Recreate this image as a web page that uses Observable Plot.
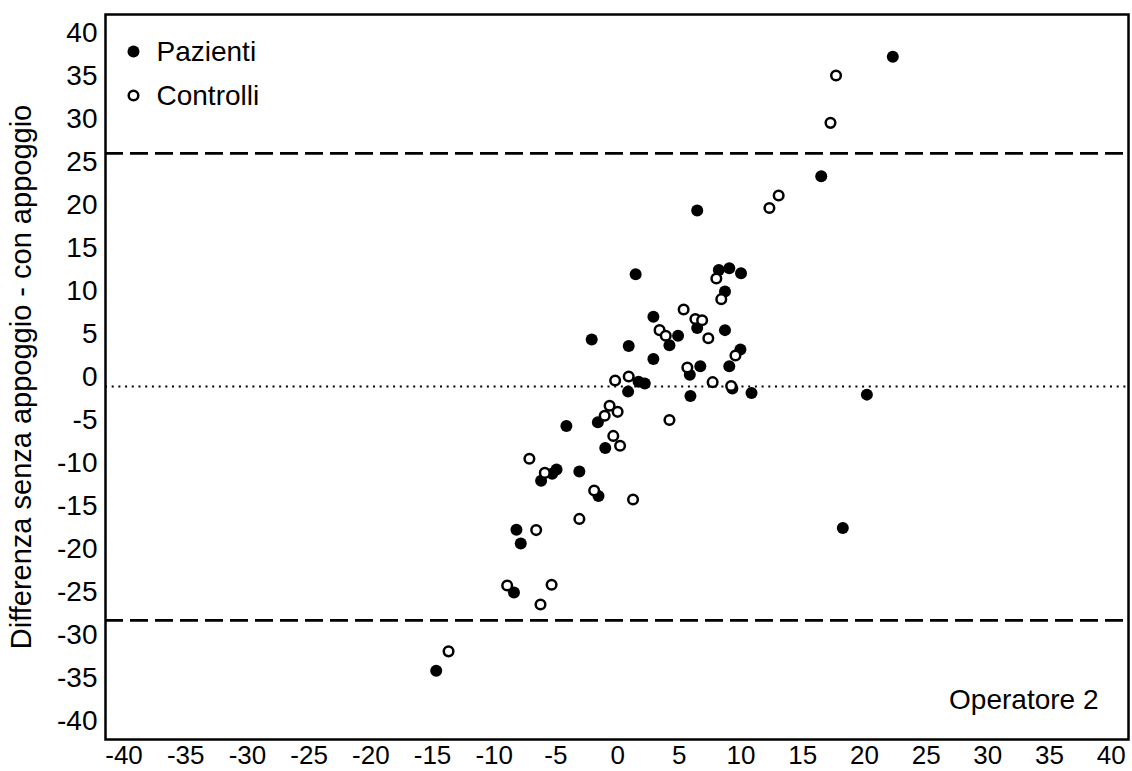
<!DOCTYPE html>
<html>
<head>
<meta charset="utf-8">
<script src="https://cdn.jsdelivr.net/npm/d3@7"></script>
<script src="https://cdn.jsdelivr.net/npm/@observablehq/plot@0.6"></script>
<style>
  html, body { margin: 0; padding: 0; background: #fff; }
  #chart { width: 1132px; height: 771px; }
</style>
</head>
<body>
<div id="chart"></div>
<script>
// Pazienti (filled)
const pazientiX = [22.3, 16.5, 6.45, 1.46, 8.2, 9.05, 10.0, 8.7, 2.9, 6.45, 8.7, 4.9, -2.1, 4.2, 0.9, 9.95, 2.9, 6.7, 9.05, 5.85, 1.7, 2.2, 9.3, 0.85, 5.9, 10.85, 20.2, -1.6, -4.15, -1.0, -4.95, -5.3, -6.2, -3.1, -1.55, -8.2, -7.85, -8.4, 18.25, -14.7];
const pazientiY = [37.3, 23.4, 19.4, 12.0, 12.5, 12.7, 12.1, 10.0, 7.05, 5.75, 5.5, 4.85, 4.4, 3.75, 3.65, 3.25, 2.15, 1.3, 1.3, 0.3, -0.5, -0.7, -1.3, -1.65, -2.15, -1.8, -2.0, -5.2, -5.65, -8.2, -10.7, -11.2, -12.0, -10.95, -13.8, -17.7, -19.3, -25.0, -17.5, -34.1];
// Controlli (open)
const controlliX = [17.7, 17.25, 13.05, 12.3, 8.0, 8.4, 5.35, 6.3, 6.85, 3.4, 3.9, 7.35, 9.55, 5.65, -0.2, 0.9, 7.7, 9.2, -0.65, 0.0, -1.05, 4.2, -0.35, 0.2, -7.15, -5.9, -1.9, 1.25, -3.1, -6.6, -8.95, -5.35, -6.25, -13.7];
const controlliY = [35.1, 29.6, 21.15, 19.7, 11.5, 9.1, 7.9, 6.8, 6.65, 5.5, 4.85, 4.55, 2.55, 1.15, -0.35, 0.1, -0.55, -1.0, -3.3, -4.0, -4.45, -4.95, -6.8, -7.95, -9.45, -11.1, -13.15, -14.2, -16.45, -17.75, -24.2, -24.1, -26.4, -31.85];

const meanDiff = -1.05;
const limits = [26.05, -28.25];
const ticks = d3.range(-40, 41, 5);
const legendItems = ["Pazienti", "Controlli"];
const yTitle = "Differenza senza appoggio - con appoggio";
const panelLabel = "Operatore 2";

const pazienti = pazientiX.map((x, i) => ({x, y: pazientiY[i]}));
const controlli = controlliX.map((x, i) => ({x, y: controlliY[i]}));

const font = "'Liberation Sans', Arial, Helvetica, sans-serif";
const fmt = d => String(d);

const legendMarks = legendItems.flatMap((name, i) => [
  Plot.dot([name], {
    frameAnchor: "top-left", dx: 28, dy: 37 + i * 44,
    r: i === 0 ? 6 : 4.8,
    fill: i === 0 ? "black" : "white",
    stroke: "black", strokeWidth: i === 0 ? 0 : 2.5
  }),
  Plot.text([name], {
    frameAnchor: "top-left", dx: 51, dy: 38 + i * 44,
    text: d => d, textAnchor: "start", lineAnchor: "middle", fontSize: 28, fill: "black"
  })
]);

const chart = Plot.plot({
  width: 1132,
  height: 771,
  marginLeft: 105,
  marginTop: 14,
  marginRight: 4,
  marginBottom: 32,
  style: {fontFamily: font, fontSize: "28px", color: "black", background: "white"},
  x: {domain: [-41.5, 41.4], ticks: ticks},
  y: {domain: [-42.1, 42.2], ticks: ticks},
  marks: [
    Plot.ruleY([meanDiff], {stroke: "black", strokeWidth: 2, strokeDasharray: "2,4.7"}),
    Plot.ruleY(limits, {stroke: "black", strokeWidth: 2.6, strokeDasharray: "18,7"}),
    Plot.dot(pazienti, {x: "x", y: "y", r: 6, fill: "black", stroke: "none"}),
    Plot.dot(controlli, {x: "x", y: "y", r: 4.8, fill: "white", stroke: "black", strokeWidth: 2.5}),
    Plot.axisX({ticks: ticks, tickSize: 0, tickPadding: 6, label: null, fontSize: 26, tickFormat: fmt}),
    Plot.axisY({ticks: ticks, tickSize: 0, tickPadding: 8, label: null, fontSize: 28, tickFormat: fmt}),
    Plot.axisY({ticks: [], tickSize: 0, label: yTitle, labelAnchor: "center", labelOffset: 95, labelArrow: "none", fontSize: 29}),
    ...legendMarks,
    Plot.text([panelLabel], {frameAnchor: "bottom-right", dx: -30, dy: -39, text: d => d, textAnchor: "end", lineAnchor: "middle", fontSize: 28, fill: "black"}),
    Plot.frame({stroke: "black", strokeWidth: 2.5})
  ]
});
document.getElementById("chart").appendChild(chart);
</script>
</body>
</html>
